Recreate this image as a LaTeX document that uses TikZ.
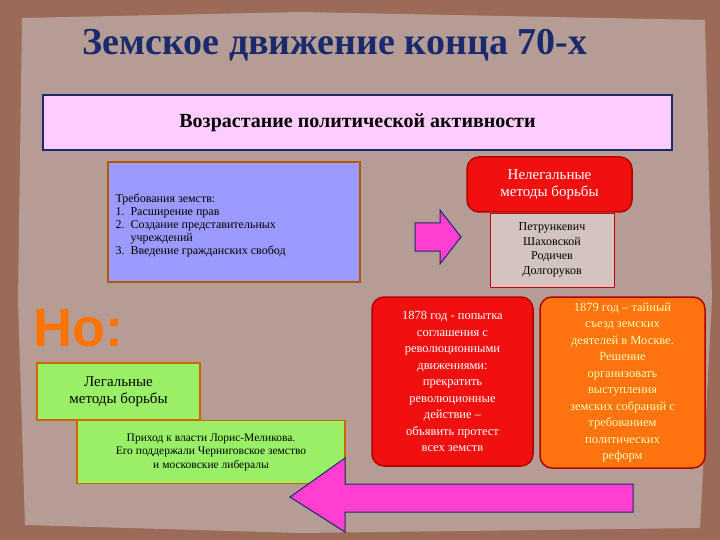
\documentclass[tikz,border=0pt]{standalone}
\usepackage{fontspec}
\setmainfont{Liberation Serif}
\newfontfamily\nofont{Liberation Sans}
\definecolor{bgbrown}{HTML}{9C6A58}
\definecolor{paper}{HTML}{B59C94}
\definecolor{navy}{HTML}{1A2A6C}
\definecolor{pinkbox}{HTML}{FFCCFF}
\definecolor{bluebox}{HTML}{9A9AFF}
\definecolor{greenbox}{HTML}{99F066}
\definecolor{redbox}{HTML}{F01010}
\definecolor{orbox}{HTML}{FF7410}
\definecolor{arrowpink}{HTML}{FF3FD0}
\tikzset{
 rbox/.style={draw=red!70!black, line width=1.5pt, rounded corners=12pt, text=white, align=center, inner sep=0pt},
 gbox/.style={draw=orange!80!black, line width=1.5pt, fill=greenbox, align=center, inner sep=0pt},
 arrowshape/.style={draw=navy, line width=1pt, fill=arrowpink},
}
\begin{document}
\begin{tikzpicture}[x=1pt,y=-1pt]
\useasboundingbox (0,0) rectangle (720,540);
\fill[bgbrown] (0,0) rectangle (720,540);
\fill[paper] (22,18) -- (300,12) -- (705,20) -- (712,300) -- (700,528) -- (300,533) -- (25,525) -- (18,300) -- cycle;
\node (title) at (335,45) {\fontsize{38}{40}\selectfont\bfseries\color{navy}Земское движение конца 70-х};
\node[draw=navy, line width=2pt, fill=pinkbox, minimum width=629, minimum height=55] (main) at (357.5,122.5) {\fontsize{20}{22}\selectfont\bfseries Возрастание политической активности};
\node[draw=orange!70!black, line width=1.5pt, fill=bluebox, minimum width=252, minimum height=120] (req) at (234,222) {};
\node[anchor=west, align=left, font=\fontsize{12}{13}\selectfont] (reqt) at (112,225) {Требования земств:\\1.\enspace Расширение прав\\2.\enspace Создание представительных\\\phantom{2.\enspace }учреждений\\3.\enspace Введение гражданских свобод};
\coordinate (a1) at (437,237);
\path[arrowshape] (415,223) -- (440,223) -- (440,210) -- (461,237) -- (440,264) -- (440,251) -- (415,251) -- cycle;
\node[rbox, fill=redbox, minimum width=165, minimum height=55, font=\fontsize{15}{17}\selectfont] (illegal) at (549.5,184.5) {Нелегальные\\методы борьбы};
\node[draw=red!80!black, fill=paper!60!white, minimum width=124, minimum height=74, align=center, font=\fontsize{12}{14.5}\selectfont, inner sep=0pt] (names) at (552,250) {Петрункевич\\Шаховской\\Родичев\\Долгоруков};
\node (no) at (78,328) {\fontsize{54}{54}\selectfont\bfseries\nofont\color{orange!90!red}Но:};
\node[gbox, minimum width=163, minimum height=57, font=\fontsize{15}{17}\selectfont] (legal) at (118.5,391.5) {Легальные\\методы борьбы};
\node[gbox, minimum width=268, minimum height=63, font=\fontsize{11.5}{13.5}\selectfont] (loris) at (211,452) {Приход к власти Лорис-Меликова.\\Его поддержали Черниговское земство\\и московские либералы};
\node[rbox, fill=redbox, minimum width=161, minimum height=169, font=\fontsize{12.5}{16.5}\selectfont] (y1878) at (452.5,381.5) {1878 год  - попытка\\соглашения с\\революционными\\движениями:\\прекратить\\революционные\\действие –\\объявить протест\\всех земств};
\node[rbox, fill=orbox, minimum width=165, minimum height=171, font=\fontsize{12.5}{16.5}\selectfont, text=yellow!30!white] (y1879) at (622.5,382.5) {1879 год – тайный\\съезд земских\\деятелей в Москве.\\Решение\\организовать\\выступления\\земских собраний с\\требованием\\политических\\реформ};
\path[arrowshape] (633,484) -- (345,484) -- (345,458) -- (290,497) -- (345,532) -- (345,512) -- (633,512) -- cycle;
\end{tikzpicture}
\end{document}
